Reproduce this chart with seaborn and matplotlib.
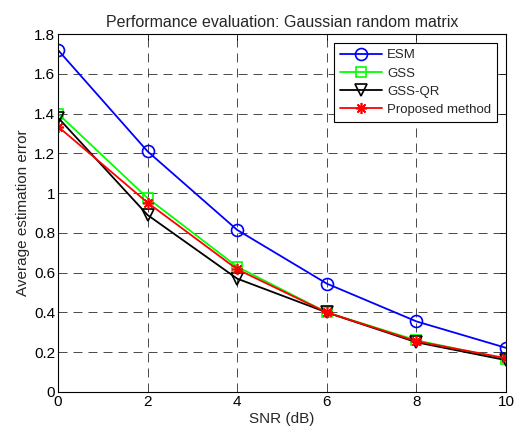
import matplotlib
matplotlib.use("Agg")
import matplotlib.pyplot as plt
import seaborn as sns
import pandas as pd


# DADOS

snr = [0, 2, 4, 6, 8, 10]

esm = [1.72, 1.21, 0.815, 0.545, 0.355, 0.222]
gss = [1.40, 0.975, 0.63, 0.40, 0.26, 0.165]
gss_qr = [1.38, 0.89, 0.57, 0.40, 0.25, 0.16]
proposed = [1.335, 0.952, 0.617, 0.40, 0.255, 0.17]

series_names = ["ESM", "GSS", "GSS-QR", "Proposed method"]

y_ticks = [0, 0.2, 0.4, 0.6, 0.8, 1.0, 1.2, 1.4, 1.6, 1.8]
y_tick_labels = ["0", "0.2", "0.4", "0.6", "0.8", "1", "1.2", "1.4", "1.6", "1.8"]
x_ticks = [0, 2, 4, 6, 8, 10]
x_tick_labels = ["0", "2", "4", "6", "8", "10"]


# ESTILO

sns.set_style("white")
plt.rcParams["font.family"] = ["Liberation Sans", "DejaVu Sans"]
plt.rcParams["lines.scale_dashes"] = False

styles = {
    "ESM": dict(color=(0, 0, 1), marker="o", ms=8.6),
    "GSS": dict(color=(0, 1, 0), marker="s", ms=7.5),
    "GSS-QR": dict(color=(0, 0, 0), marker="v", ms=8.8),
    "Proposed method": dict(color=(1, 0, 0), marker=(8, 2, 0), ms=8),
}

df = pd.DataFrame({
    "snr": snr * 4,
    "err": esm + gss + gss_qr + proposed,
    "method": [n for n in series_names for _ in snr],
})


# FIGURA

fig = plt.figure(figsize=(5.15, 4.37), dpi=100)
ax = fig.add_axes([0.1126, 0.103, 0.87, 0.819])

for name in series_names:
    st = styles[name]
    sns.lineplot(
        data=df[df["method"] == name],
        x="snr",
        y="err",
        ax=ax,
        color=st["color"],
        marker=st["marker"],
        markersize=st["ms"],
        markerfacecolor="none",
        markeredgecolor=st["color"],
        markeredgewidth=1.2,
        linewidth=1.3,
        label=name,
    )

ax.set_xlim(0, 10)
ax.set_ylim(0, 1.8)
ax.set_xticks(x_ticks)
ax.set_xticklabels(x_tick_labels)
ax.set_yticks(y_ticks)
ax.set_yticklabels(y_tick_labels)

ax.grid(True, color="black", linestyle=(0, (6.5, 4.3)), linewidth=0.5)

ax.tick_params(
    direction="in",
    length=4,
    width=0.6,
    top=True,
    right=True,
    labelsize=11,
    colors="black",
    pad=2,
)

for spine in ax.spines.values():
    spine.set_visible(True)
    spine.set_color("black")
    spine.set_linewidth(0.8)

ax.set_title(
    "Performance evaluation: Gaussian random matrix",
    fontsize=11.5,
    pad=5
)

ax.set_xlabel("SNR (dB)", fontsize=11, labelpad=2)
ax.set_ylabel("Average estimation error", fontsize=11, labelpad=3)

leg = ax.legend(
    loc="upper right",
    bbox_to_anchor=(0.986, 0.982),
    fontsize=9.5,
    fancybox=False,
    framealpha=1,
    edgecolor="black",
    handlelength=3.2,
    labelspacing=0.45,
    borderpad=0.45,
    handletextpad=0.4,
    borderaxespad=0.2,
)
leg.get_frame().set_linewidth(0.8)

fig.savefig("out.png", dpi=100)
